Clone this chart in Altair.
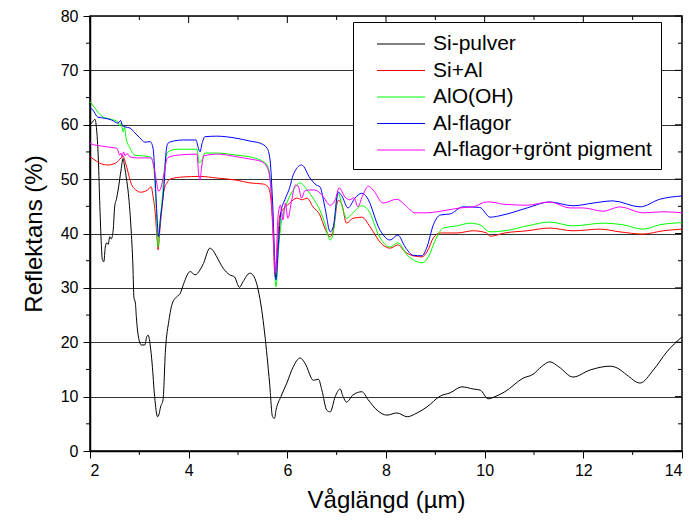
import altair as alt
import pandas as pd

# Plot area size in pixels
W, H = 592, 435

names = ["Si-pulver", "Si+Al", "AlO(OH)", "Al-flagor", "Al-flagor+grönt pigment"]
colors = ["#000000", "#ff0000", "#00ff00", "#0000ff", "#ff00ff"]

# Si-pulver
si_x = [2.00, 2.05, 2.10, 2.13, 2.17, 2.20, 2.23, 2.25, 2.28, 2.31, 2.34, 2.37, 2.40, 2.43,
        2.47, 2.50, 2.54, 2.57, 2.63, 2.67, 2.70, 2.74, 2.77, 2.83, 2.87, 2.89, 2.92, 2.94,
        2.97, 3.04, 3.11, 3.15, 3.18, 3.22, 3.26, 3.31, 3.37, 3.40, 3.43, 3.48, 3.53, 3.60,
        3.67, 3.75, 3.83, 3.90, 4.03, 4.13, 4.23, 4.30, 4.43, 4.50, 4.57, 4.70, 4.83, 4.93,
        5.03, 5.10, 5.24, 5.30, 5.41, 5.48, 5.54, 5.64, 5.70, 5.74, 5.77, 5.87, 5.99, 6.12,
        6.26, 6.36, 6.53, 6.63, 6.70, 6.80, 6.87, 6.97, 7.07, 7.13, 7.20, 7.33, 7.51, 7.64,
        7.82, 8.02, 8.22, 8.43, 8.63, 8.83, 9.10, 9.30, 9.54, 9.77, 9.91, 10.07, 10.21,
        10.41, 10.78, 10.98, 11.15, 11.32, 11.50, 11.79, 12.14, 12.54, 12.70, 12.88, 13.15,
        13.42, 13.69, 14.00]
si_y = [60.0, 60.5, 61.0, 59.5, 53.5, 45.0, 38.0, 35.2, 34.8, 37.5, 38.3, 38.0, 39.4, 39.0,
        40.6, 44.9, 46.5, 48.0, 51.7, 53.8, 52.4, 50.0, 48.0, 41.2, 34.0, 28.3, 27.2, 24.6,
        21.7, 19.5, 19.5, 21.0, 21.3, 19.5, 16.0, 10.0, 6.3, 6.8, 8.1, 9.4, 18.6, 24.0,
        27.2, 28.3, 29.0, 30.8, 33.0, 32.4, 33.3, 34.5, 37.3, 36.8, 35.7, 33.6, 32.4, 32.0,
        30.1, 31.1, 32.7, 32.4, 29.6, 26.0, 21.7, 12.5, 6.3, 6.0, 7.5, 10.0, 12.5, 15.5,
        17.1, 16.1, 13.0, 13.2, 11.2, 7.5, 7.2, 10.0, 11.4, 10.0, 9.0, 10.3, 10.9, 9.4,
        7.5, 6.6, 7.0, 6.3, 7.0, 8.1, 10.1, 10.7, 11.8, 11.4, 11.2, 9.6, 10.0,
        10.9, 13.4, 14.1, 15.5, 16.4, 15.5, 13.6, 14.9, 15.6, 15.2, 14.0, 12.5,
        14.9, 18.2, 21.0]

# Si+Al
sial_x = [2.00, 2.10, 2.23, 2.36, 2.53, 2.63, 2.67, 2.72, 2.77, 2.83, 2.93, 3.03, 3.17, 3.24,
          3.28, 3.32, 3.36, 3.38, 3.41, 3.45, 3.50, 3.56, 3.62, 3.89, 4.23, 4.57, 4.98, 5.24,
          5.51, 5.61, 5.67, 5.71, 5.75, 5.79, 5.85, 6.05, 6.19, 6.30, 6.40, 6.52, 6.66, 6.76,
          6.87, 6.93, 7.03, 7.10, 7.20, 7.33, 7.51, 7.68, 7.88, 8.08, 8.24, 8.39, 8.55, 8.73,
          8.83, 8.96, 9.10, 9.44, 9.77, 10.04, 10.11, 10.41, 10.86, 11.32, 11.79, 12.34,
          12.74, 13.21, 13.62, 14.00]
sial_y = [54.1, 53.5, 52.8, 52.6, 53.0, 53.9, 54.2, 53.0, 51.3, 49.3, 48.0, 47.6, 48.0, 48.6,
          46.7, 44.0, 39.0, 37.0, 40.0, 44.0, 48.0, 49.3, 50.0, 50.4, 50.5, 50.2, 49.8, 49.3,
          49.1, 48.6, 46.0, 40.0, 32.0, 36.0, 43.4, 45.6, 46.5, 46.2, 46.5, 44.9, 43.4, 41.0,
          39.4, 40.6, 46.1, 45.5, 41.9, 42.8, 43.0, 41.2, 38.4, 37.3, 37.9, 36.6, 35.9, 35.7,
          36.6, 39.2, 40.1, 40.1, 40.5, 40.1, 39.5, 40.1, 40.5, 41.0, 40.5, 40.8,
          40.3, 39.9, 40.5, 40.8]

# AlO(OH)
aloh_x = [2.00, 2.08, 2.16, 2.27, 2.43, 2.57, 2.60, 2.63, 2.67, 2.70, 2.73, 2.81, 2.91, 3.03,
          3.22, 3.26, 3.30, 3.34, 3.38, 3.42, 3.47, 3.52, 3.58, 3.76, 4.17, 4.21, 4.25, 4.33,
          4.57, 4.98, 5.24, 5.45, 5.59, 5.65, 5.70, 5.77, 5.82, 5.87, 5.99, 6.12, 6.26, 6.40,
          6.52, 6.66, 6.76, 6.87, 6.93, 7.03, 7.13, 7.20, 7.33, 7.51, 7.64, 7.88, 8.08, 8.24,
          8.43, 8.63, 8.73, 8.86, 9.00, 9.16, 9.44, 9.70, 9.90, 10.11, 10.41, 10.86, 11.32,
          11.79, 12.40, 12.80, 13.21, 13.55, 14.00]
aloh_y = [64.3, 63.3, 62.3, 61.4, 61.0, 60.5, 59.8, 60.3, 58.7, 59.5, 57.6, 55.7, 54.4, 54.3,
          54.1, 53.5, 51.5, 45.0, 37.5, 42.0, 47.0, 53.0, 55.0, 55.5, 55.5, 53.0, 53.2, 54.8,
          54.8, 54.4, 54.1, 53.5, 52.6, 50.4, 44.0, 30.2, 37.0, 41.5, 45.6, 48.0, 49.3, 48.0,
          46.5, 44.3, 41.9, 38.8, 40.1, 47.4, 44.3, 42.8, 43.8, 45.1, 44.3, 39.2, 37.5, 38.3,
          36.0, 34.8, 34.6, 35.7, 38.8, 41.0, 41.4, 41.9, 41.6, 40.3, 40.5, 41.4, 42.1,
          41.4, 41.9, 41.6, 40.8, 41.6, 42.0]

# Al-flagor
alf_x = [2.00, 2.05, 2.16, 2.30, 2.43, 2.57, 2.62, 2.66, 2.71, 2.81, 2.91, 3.01, 3.11, 3.22,
         3.28, 3.32, 3.36, 3.39, 3.43, 3.48, 3.51, 3.54, 3.58, 3.69, 3.89, 4.15, 4.19, 4.23,
         4.27, 4.33, 4.57, 4.98, 5.24, 5.45, 5.59, 5.65, 5.70, 5.77, 5.82, 5.87, 5.95, 6.05,
         6.12, 6.29, 6.46, 6.59, 6.66, 6.76, 6.87, 6.93, 7.03, 7.10, 7.23, 7.37, 7.51, 7.61,
         7.88, 8.08, 8.24, 8.39, 8.55, 8.73, 8.83, 8.96, 9.10, 9.30, 9.56, 9.90, 10.11, 10.37,
         10.86, 11.32, 11.79, 12.20, 12.60, 13.15, 13.55, 14.00]
alf_y = [63.1, 62.8, 61.4, 61.2, 60.9, 60.3, 60.8, 59.8, 59.6, 59.4, 58.5, 57.6, 56.8, 56.9,
         55.6, 50.0, 43.0, 39.4, 43.0, 46.7, 50.0, 54.8, 56.6, 57.0, 57.2, 57.2, 55.9, 55.0,
         56.5, 57.8, 57.9, 57.5, 57.0, 56.6, 55.7, 53.5, 46.0, 31.5, 38.0, 44.0, 46.2, 48.5,
         50.8, 52.6, 50.2, 48.9, 48.6, 44.9, 40.3, 41.2, 47.6, 47.0, 44.7, 46.5, 47.4, 46.7,
         40.6, 38.8, 39.7, 37.5, 36.0, 35.9, 37.5, 41.6, 43.4, 43.6, 44.9, 44.8, 43.0, 43.4,
         44.7, 45.8, 45.1, 45.6, 46.0, 44.9, 46.3, 46.9]

# Al-flagor+grönt pigment
alfg_x = [2.00, 2.08, 2.23, 2.36, 2.53, 2.57, 2.60, 2.63, 2.65, 2.68, 2.71, 2.75, 2.81, 2.97,
          3.24, 3.29, 3.34, 3.39, 3.44, 3.50, 3.57, 3.76, 4.17, 4.20, 4.23, 4.26, 4.31, 4.60,
          4.98, 5.24, 5.48, 5.59, 5.65, 5.70, 5.76, 5.81, 5.86, 5.91, 5.96, 6.01, 6.09, 6.16,
          6.22, 6.29, 6.35, 6.43, 6.56, 6.70, 6.87, 6.97, 7.05, 7.17, 7.27, 7.35, 7.43, 7.52,
          7.64, 7.74, 7.94, 8.22, 8.39, 8.59, 8.83, 9.03, 9.24, 9.50, 9.77, 10.04, 10.11,
          10.37, 10.86, 11.32, 11.73, 12.00, 12.40, 12.74, 13.21, 13.62, 14.00]
alfg_y = [56.6, 56.3, 56.1, 55.9, 55.7, 55.2, 54.4, 54.8, 54.0, 55.0, 54.3, 54.7, 54.1, 53.9,
          53.9, 52.5, 50.0, 47.8, 48.5, 51.0, 53.9, 54.4, 54.6, 51.0, 49.8, 52.0, 54.3, 54.6,
          54.1, 53.7, 53.2, 52.2, 49.8, 43.0, 32.7, 43.0, 45.2, 42.5, 45.6, 42.8, 46.2, 48.9,
          48.7, 46.5, 47.8, 48.0, 48.0, 47.1, 45.2, 46.2, 48.4, 46.7, 46.2, 46.6, 44.9, 46.8,
          48.7, 48.0, 45.6, 46.3, 45.2, 43.8, 43.8, 44.0, 44.3, 44.7, 44.9, 45.8, 45.8,
          45.4, 45.2, 45.8, 44.7, 44.7, 44.1, 44.9, 43.8, 44.0, 43.8]

x_major = [2, 4, 6, 8, 10, 12, 14]
x_minor = [3, 5, 7, 9, 11, 13]
y_major = [0, 10, 20, 30, 40, 50, 60, 70, 80]
y_minor = [5, 15, 25, 35, 45, 55, 65, 75]

rows = []
for name, xs, ys in zip(names,
                        [si_x, sial_x, aloh_x, alf_x, alfg_x],
                        [si_y, sial_y, aloh_y, alf_y, alfg_y]):
    for a, b in zip(xs, ys):
        rows.append({"serie": name, "wl": a, "r": b})
df = pd.DataFrame(rows)

FONT = "Liberation Sans"

x_scale = alt.Scale(domain=[2, 14], nice=False, zero=False)
y_scale = alt.Scale(domain=[0, 80], nice=False)

# Legend swatch: a 48 px horizontal stroke
# (custom symbol paths are scaled by sqrt(size)/2 = 12 px around the slot centre)
SWATCH = "M0.167,0H4.167"

lines = alt.Chart(df).mark_line(strokeWidth=1, interpolate="monotone", clip=True).encode(
    x=alt.X("wl:Q", scale=x_scale, title="Våglängd (µm)",
            axis=alt.Axis(values=x_major, tickSize=7, labelPadding=4, titlePadding=10,
                          grid=False, format="d")),
    y=alt.Y("r:Q", scale=y_scale, title="Reflektans (%)",
            axis=alt.Axis(values=y_major, tickSize=7, labelPadding=5, titlePadding=14,
                          grid=True, format="d")),
    color=alt.Color("serie:N", scale=alt.Scale(domain=names, range=colors),
                    legend=alt.Legend(title=None, orient="none", legendX=263, legendY=6,
                                      symbolType=SWATCH, symbolSize=576,
                                      symbolStrokeWidth=1.2, symbolFillColor="transparent",
                                      labelFontSize=21, labelFont=FONT, labelColor="black",
                                      labelLimit=400, strokeColor="black", fillColor="white",
                                      padding=9, rowPadding=3.5, labelOffset=45)),
)

# Frame ticks: minor ticks outside on bottom/left, inward ticks on top/right
xmin_df = pd.DataFrame({"wl": x_minor})
xmaj_df = pd.DataFrame({"wl": x_major})
ymin_df = pd.DataFrame({"r": y_minor})
ymaj_df = pd.DataFrame({"r": y_major})

bottom_minor = alt.Chart(xmin_df).mark_rule(color="black", strokeWidth=1).encode(
    x=alt.X("wl:Q", scale=x_scale), y=alt.value(H), y2=alt.value(H + 4))
left_minor = alt.Chart(ymin_df).mark_rule(color="black", strokeWidth=1).encode(
    y=alt.Y("r:Q", scale=y_scale), x=alt.value(0), x2=alt.value(-4))
top_major = alt.Chart(xmaj_df).mark_rule(color="black").encode(
    x=alt.X("wl:Q", scale=x_scale), y=alt.value(0), y2=alt.value(7))
top_minor = alt.Chart(xmin_df).mark_rule(color="black").encode(
    x=alt.X("wl:Q", scale=x_scale), y=alt.value(0), y2=alt.value(4))
right_major = alt.Chart(ymaj_df).mark_rule(color="black").encode(
    y=alt.Y("r:Q", scale=y_scale), x=alt.value(W), x2=alt.value(W - 7))
right_minor = alt.Chart(ymin_df).mark_rule(color="black").encode(
    y=alt.Y("r:Q", scale=y_scale), x=alt.value(W), x2=alt.value(W - 4))

chart = alt.layer(
    lines, bottom_minor, left_minor, top_major, top_minor, right_major, right_minor
).properties(
    width=W, height=H,
    background="white",
    autosize=alt.AutoSizeParams(type="none"),
    padding={"left": 90, "top": 16, "right": 10, "bottom": 74},
).configure_view(
    stroke="black", strokeWidth=1.5
).configure_axis(
    domainColor="black", domainWidth=1.5, tickColor="black", tickWidth=1,
    labelColor="black", labelFont=FONT, labelFontSize=16,
    titleColor="black", titleFont=FONT, titleFontSize=24, titleFontWeight="normal",
    gridColor="#333333", gridWidth=1, gridOpacity=1,
)

chart.save("out.html", embed_options={"renderer": "svg", "actions": False})
